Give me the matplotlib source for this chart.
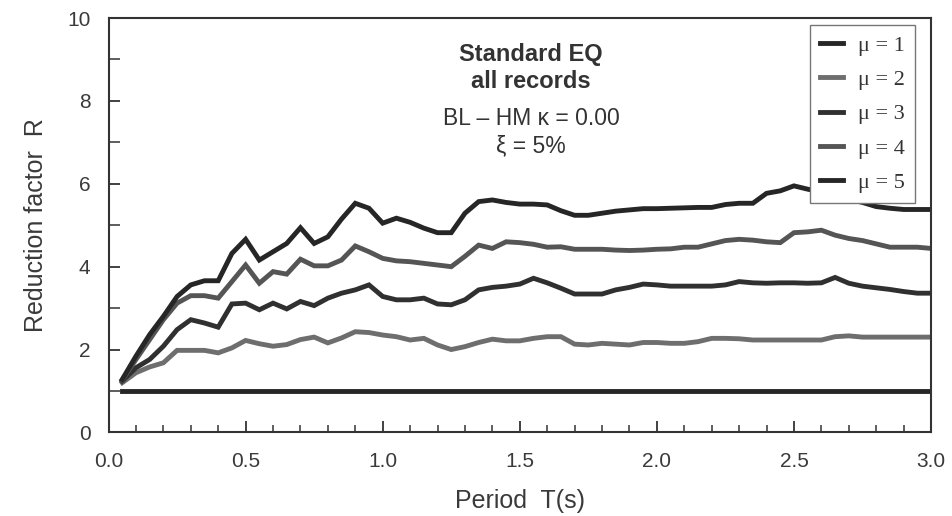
import matplotlib
matplotlib.use("Agg")
import matplotlib.pyplot as plt
from matplotlib.ticker import MultipleLocator

# Periodos T(s)
period = [0.05, 0.10, 0.15, 0.20, 0.25, 0.30, 0.35, 0.40, 0.45, 0.50,
          0.55, 0.60, 0.65, 0.70, 0.75, 0.80, 0.85, 0.90, 0.95, 1.00,
          1.05, 1.10, 1.15, 1.20, 1.25, 1.30, 1.35, 1.40, 1.45, 1.50,
          1.55, 1.60, 1.65, 1.70, 1.75, 1.80, 1.85, 1.90, 1.95, 2.00,
          2.05, 2.10, 2.15, 2.20, 2.25, 2.30, 2.35, 2.40, 2.45, 2.50,
          2.55, 2.60, 2.65, 2.70, 2.75, 2.80, 2.85, 2.90, 2.95, 3.00]

# Factor de reduccion R para cada ductilidad
r_mu1 = [1.0] * len(period)
r_mu2 = [1.20, 1.44, 1.58, 1.68, 1.98, 1.98, 1.98, 1.92, 2.04, 2.22,
         2.14, 2.08, 2.12, 2.24, 2.30, 2.16, 2.28, 2.43, 2.41, 2.35,
         2.31, 2.23, 2.27, 2.11, 2.00, 2.07, 2.17, 2.25, 2.21, 2.21,
         2.27, 2.31, 2.31, 2.13, 2.11, 2.15, 2.13, 2.11, 2.17, 2.17,
         2.15, 2.15, 2.19, 2.27, 2.27, 2.26, 2.23, 2.23, 2.23, 2.23,
         2.23, 2.23, 2.31, 2.33, 2.30, 2.30, 2.30, 2.30, 2.30, 2.30]
r_mu3 = [1.24, 1.56, 1.76, 2.08, 2.48, 2.72, 2.64, 2.54, 3.10, 3.12,
         2.96, 3.12, 2.98, 3.16, 3.06, 3.24, 3.36, 3.44, 3.56, 3.28,
         3.20, 3.20, 3.24, 3.10, 3.08, 3.20, 3.44, 3.50, 3.53, 3.58,
         3.72, 3.61, 3.48, 3.34, 3.34, 3.34, 3.44, 3.50, 3.58, 3.56,
         3.53, 3.53, 3.53, 3.53, 3.56, 3.64, 3.61, 3.60, 3.61, 3.61,
         3.60, 3.61, 3.74, 3.60, 3.53, 3.49, 3.45, 3.40, 3.36, 3.36]
r_mu4 = [1.26, 1.76, 2.24, 2.72, 3.12, 3.30, 3.30, 3.24, 3.64, 4.04,
         3.60, 3.88, 3.82, 4.18, 4.02, 4.02, 4.16, 4.50, 4.36, 4.20,
         4.14, 4.12, 4.08, 4.04, 4.00, 4.25, 4.52, 4.44, 4.60, 4.58,
         4.54, 4.47, 4.48, 4.42, 4.42, 4.42, 4.40, 4.39, 4.40, 4.42,
         4.43, 4.47, 4.47, 4.55, 4.63, 4.66, 4.64, 4.60, 4.58, 4.82,
         4.84, 4.88, 4.76, 4.68, 4.63, 4.55, 4.47, 4.47, 4.47, 4.44]
r_mu5 = [1.28, 1.84, 2.36, 2.80, 3.28, 3.56, 3.66, 3.66, 4.32, 4.66,
         4.16, 4.36, 4.56, 4.94, 4.56, 4.72, 5.15, 5.53, 5.41, 5.05,
         5.17, 5.07, 4.93, 4.82, 4.82, 5.29, 5.57, 5.61, 5.55, 5.51,
         5.51, 5.49, 5.35, 5.24, 5.24, 5.29, 5.34, 5.37, 5.40, 5.40,
         5.41, 5.42, 5.43, 5.43, 5.50, 5.53, 5.53, 5.77, 5.83, 5.95,
         5.87, 5.80, 5.72, 5.63, 5.55, 5.45, 5.41, 5.38, 5.38, 5.38]

etiquetas = ["μ = 1", "μ = 2", "μ = 3", "μ = 4", "μ = 5"]
colores = ["#262626", "#6e6e6e", "#303030", "#555555", "#262626"]

plt.rcParams['font.family'] = ['Liberation Sans', 'DejaVu Sans']

fig = plt.figure(figsize=(9.52, 5.16), dpi=100)
ax = fig.add_axes([0.114, 0.162, 0.864, 0.803])

series = [r_mu1, r_mu2, r_mu3, r_mu4, r_mu5]
for datos, et, c in zip(series, etiquetas, colores):
    ax.plot(period, datos, color=c, lw=3.5, label=et, solid_joinstyle='miter')

ax.set_xlim(0, 3.0)
ax.set_ylim(0, 10)
ax.xaxis.set_major_locator(MultipleLocator(0.5))
ax.xaxis.set_minor_locator(MultipleLocator(0.1))
ax.yaxis.set_major_locator(MultipleLocator(2))
ax.yaxis.set_minor_locator(MultipleLocator(1))
ax.xaxis.set_major_formatter(plt.FormatStrFormatter('%.1f'))

ax.tick_params(which='major', direction='in', length=8, width=1.3,
               labelsize=15, labelcolor='#3a3a3a', color='#333333')
ax.tick_params(axis='x', which='major', pad=14)
ax.tick_params(axis='y', which='major', pad=13)
ax.tick_params(which='minor', direction='in', length=5, width=1.1, color='#333333')
ax.tick_params(axis='y', which='minor', length=8)
ax.tick_params(top=False, right=False, which='both')

for sp in ax.spines.values():
    sp.set_linewidth(1.5)
    sp.set_color('#333333')

ax.set_xlabel('Period  T(s)', fontsize=18, color='#3a3a3a', labelpad=13)
ax.set_ylabel('Reduction factor  R', fontsize=18, color='#3a3a3a', labelpad=14)

# Texto de anotacion
ax.text(0.514, 0.913, 'Standard EQ', transform=ax.transAxes,
        ha='center', va='center', fontsize=17, fontweight='bold', color='#333333')
ax.text(0.514, 0.846, 'all records', transform=ax.transAxes,
        ha='center', va='center', fontsize=17, fontweight='bold', color='#333333')
ax.text(0.514, 0.757, 'BL – HM κ = 0.00', transform=ax.transAxes,
        ha='center', va='center', fontsize=16.5, color='#333333')
ax.text(0.514, 0.691, 'ξ = 5%', transform=ax.transAxes,
        ha='center', va='center', fontsize=16.5, color='#333333')

leg = ax.legend(loc='upper right', bbox_to_anchor=(0.9805, 0.983),
                borderaxespad=0,
                prop={'family': 'Liberation Serif', 'size': 16},
                handlelength=1.0, handletextpad=0.7, labelspacing=0.62,
                borderpad=0.45, fancybox=False, framealpha=1,
                edgecolor='#777777')
leg.get_frame().set_linewidth(1.0)
for t in leg.get_texts():
    t.set_color('#333333')

fig.savefig('out.png', dpi=100)
